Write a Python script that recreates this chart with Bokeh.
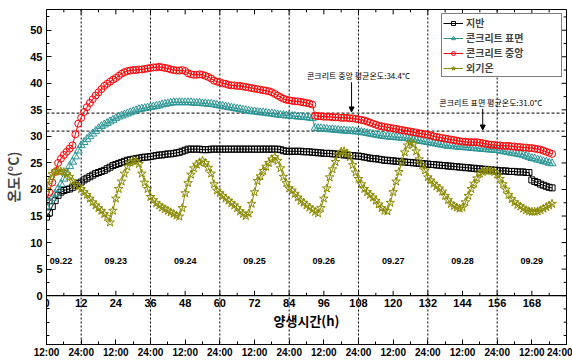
from bokeh.plotting import figure
from bokeh.models import (FixedTicker, Span, Label, Arrow, NormalHead,
                          Legend, LegendItem, Range1d)
from bokeh.core.properties import value
from bokeh.embed import file_html
from bokeh.resources import INLINE

# ---------------- data ----------------
hours = list(range(176))

ground = [14.8, 15.6, 16.8, 17.9, 18.9, 19.5, 19.8, 20.0, 20.1, 20.4,
          20.8, 21.1, 21.4, 21.8, 22.1, 22.4, 22.7, 23.0, 23.2, 23.4,
          23.6, 23.9, 24.2, 24.5, 24.7, 24.9, 25.1, 25.3, 25.5, 25.6,
          25.7, 25.8, 25.9, 26.0, 26.1, 26.1, 26.2, 26.3, 26.4, 26.5,
          26.5, 26.6, 26.7, 26.7, 26.8, 26.9, 27.0, 27.2, 27.4, 27.6,
          27.6, 27.6, 27.6, 27.6, 27.5, 27.5, 27.5, 27.6, 27.6, 27.6,
          27.6, 27.6, 27.6, 27.6, 27.6, 27.6, 27.6, 27.6, 27.6, 27.6,
          27.6, 27.6, 27.6, 27.6, 27.6, 27.6, 27.6, 27.6, 27.6, 27.6,
          27.6, 27.5, 27.3, 27.2, 27.2, 27.2, 27.2, 27.2, 27.2, 27.1,
          27.1, 27.1, 27.0, 27.0, 26.9, 26.9, 26.8, 26.8, 26.8, 26.7,
          26.7, 26.6, 26.6, 26.5, 26.5, 26.4, 26.4, 26.3, 26.3, 26.2,
          26.1, 26.0, 25.9, 25.8, 25.8, 25.7, 25.6, 25.5, 25.5, 25.4,
          25.4, 25.3, 25.3, 25.2, 25.2, 25.1, 25.1, 25.0, 25.0, 24.9,
          24.9, 24.8, 24.8, 24.7, 24.7, 24.6, 24.6, 24.5, 24.5, 24.4,
          24.4, 24.3, 24.3, 24.2, 24.2, 24.1, 24.1, 24.0, 24.0, 23.9,
          23.9, 23.8, 23.8, 23.7, 23.7, 23.6, 23.6, 23.5, 23.5, 23.5,
          23.4, 23.4, 23.4, 23.3, 23.3, 23.3, 23.2, 23.2, 21.8, 21.5,
          21.3, 21.0, 20.8, 20.6, 20.4, 20.3]

surface = [16.8, 17.7, 18.4, 19.2, 20.1, 21.0, 22.0, 23.2, 24.4, 25.2,
           26.2, 27.3, 28.3, 28.9, 29.5, 30.0, 30.5, 31.0, 31.5, 31.9,
           32.2, 32.5, 32.8, 33.1, 33.4, 33.7, 33.9, 34.1, 34.3, 34.5,
           34.7, 34.9, 35.1, 35.2, 35.3, 35.4, 35.5, 35.6, 35.7, 35.8,
           36.0, 36.1, 36.2, 36.3, 36.4, 36.4, 36.4, 36.4, 36.4, 36.4,
           36.4, 36.3, 36.3, 36.3, 36.2, 36.2, 36.1, 36.1, 36.0, 35.9,
           35.8, 35.7, 35.6, 35.5, 35.4, 35.3, 35.2, 35.1, 35.0, 34.9,
           34.8, 34.7, 34.7, 34.6, 34.5, 34.5, 34.4, 34.3, 34.3, 34.2,
           34.1, 34.0, 34.0, 33.9, 33.9, 33.8, 33.8, 33.7, 33.7, 33.6,
           33.6, 33.5, 33.4, 31.6, 31.5, 31.5, 31.4, 31.4, 31.3, 31.3,
           31.2, 31.2, 31.1, 31.1, 31.0, 31.0, 31.0, 30.9, 30.9, 30.8,
           30.7, 30.6, 30.5, 30.4, 30.3, 30.2, 30.1, 30.0, 30.0, 29.9,
           29.9, 29.8, 29.8, 29.7, 29.7, 29.6, 29.5, 29.4, 29.3, 29.2,
           29.1, 29.0, 28.9, 28.8, 28.7, 28.6, 28.5, 28.4, 28.3, 28.2,
           28.2, 28.1, 28.1, 28.0, 28.0, 27.9, 27.9, 27.8, 27.8, 27.7,
           27.7, 27.6, 27.6, 27.5, 27.5, 27.4, 27.4, 27.3, 27.2, 27.1,
           27.0, 26.9, 26.8, 26.7, 26.6, 26.5, 26.3, 26.1, 25.9, 25.8,
           25.6, 25.5, 25.3, 25.2, 25.0, 24.9]

center = [18.0, 19.5, 21.3, 23.3, 25.0, 25.8, 26.5, 27.1, 27.7, 28.3,
          30.4, 32.4, 33.5, 34.6, 35.5, 36.3, 37.0, 37.7, 38.3, 38.9,
          39.5, 39.9, 40.3, 40.7, 41.0, 41.4, 41.8, 42.1, 42.3, 42.4,
          42.5, 42.5, 42.6, 42.6, 42.7, 42.8, 42.9, 43.0, 43.0, 43.1,
          43.0, 42.9, 42.8, 42.6, 42.5, 42.4, 42.4, 42.5, 42.3, 41.9,
          41.7, 41.6, 41.6, 41.7, 41.6, 41.4, 41.2, 40.9, 40.5, 40.3,
          40.2, 40.0, 39.9, 39.7, 39.6, 39.6, 39.5, 39.5, 39.4, 39.3,
          39.2, 39.1, 39.0, 38.9, 38.8, 38.7, 38.6, 38.5, 38.3, 38.0,
          37.7, 37.4, 37.1, 36.9, 36.8, 36.7, 36.6, 36.6, 36.5, 36.4,
          36.3, 36.2, 36.0, 33.9, 33.8, 33.8, 33.7, 33.7, 33.7, 33.6,
          33.6, 33.6, 33.5, 33.5, 33.5, 33.4, 33.4, 33.3, 33.2, 33.1,
          33.0, 32.8, 32.6, 32.4, 32.2, 32.0, 31.9, 31.8, 31.7, 31.6,
          31.5, 31.4, 31.3, 31.2, 31.1, 31.0, 30.9, 30.8, 30.7, 30.6,
          30.5, 30.4, 30.3, 30.2, 30.0, 29.9, 29.8, 29.7, 29.6, 29.5,
          29.4, 29.3, 29.2, 29.1, 29.0, 29.0, 28.9, 28.9, 28.9, 28.9,
          28.8, 28.7, 28.6, 28.5, 28.4, 28.4, 28.3, 28.3, 28.2, 28.2,
          28.2, 28.1, 28.1, 28.0, 28.0, 27.9, 27.9, 27.8, 27.8, 27.7,
          27.6, 27.5, 27.3, 27.1, 26.9, 26.7]

air = [20.1, 21.6, 22.9, 23.4, 23.5, 23.4, 23.3, 22.9, 22.4, 21.6,
       20.9, 20.5, 20.1, 19.5, 19.0, 18.3, 17.6, 17.0, 16.5, 16.0,
       15.4, 14.8, 13.8, 16.0, 18.3, 20.1, 21.5, 23.0, 24.3, 25.1,
       25.4, 25.3, 24.8, 23.0, 21.3, 20.1, 18.6, 18.0, 17.4, 17.0,
       16.6, 16.3, 16.0, 15.7, 15.4, 15.1, 14.9, 16.5, 19.3, 21.2,
       22.8, 24.0, 24.7, 25.1, 25.4, 25.0, 24.1, 23.0, 21.0, 19.8,
       19.3, 18.8, 18.3, 17.9, 17.4, 17.0, 16.5, 15.9, 15.4, 15.0,
       15.5, 17.3, 19.5, 21.6, 22.5, 23.5, 24.3, 25.0, 25.7, 26.1,
       25.4, 24.0, 22.4, 21.2, 20.2, 19.8, 19.2, 18.5, 17.9, 17.5,
       17.0, 16.6, 16.2, 15.8, 15.5, 16.5, 18.3, 20.2, 22.3, 23.8,
       25.2, 26.6, 27.1, 27.2, 26.8, 26.1, 24.6, 23.2, 22.0, 21.0,
       20.1, 19.5, 19.0, 18.5, 17.9, 17.2, 16.5, 16.0, 15.9, 17.5,
       19.5, 21.5, 23.3, 25.2, 27.0, 28.3, 28.9, 28.5, 27.2, 25.7,
       24.6, 23.6, 22.3, 21.7, 21.1, 20.6, 20.2, 19.6, 18.8, 18.0,
       17.3, 16.9, 16.6, 16.4, 16.6, 17.6, 18.8, 20.1, 21.1, 22.1,
       23.0, 23.3, 23.5, 23.5, 23.5, 23.3, 22.8, 22.0, 21.0, 20.0,
       19.0, 18.2, 17.6, 17.1, 16.8, 16.4, 16.1, 15.9, 15.8, 15.8,
       15.9, 16.1, 16.4, 16.7, 17.0, 17.3]

series_names = ["지반", "콘크리트 표면", "콘크리트 중앙", "외기온"]

x_ticks = list(range(0, 169, 12))          # 0 .. 168 on the y=0 axis
x_minor = list(range(6, 175, 12))
time_ticks = list(range(0, 181, 12))       # bottom clock axis
time_minor = list(range(6, 180, 12))
time_labels = ["12:00", "24:00"]
y_ticks = list(range(0, 51, 5))
y_minor = [-7.5, -5, -2.5] + [2.5 + 5 * k for k in range(11)]

dates = ["09.22", "09.23", "09.24", "09.25", "09.26", "09.27", "09.28", "09.29"]
date_hours = [5, 24, 48, 72, 96, 120, 144, 168]
midnights = [12, 36, 60, 84, 108, 132, 156]

avg_center = 34.4
avg_surface = 31.0
avg_center_text = "콘크리트 중앙 평균온도:34.4°C"
avg_surface_text = "콘크리트 표면 평균온도:31.0°C"
note_text = "버블시트 미적용 평균"

# ---------------- figure ----------------
LAT = "Liberation Sans"
KR = "Noto Sans CJK KR"
X_MIN, X_MAX = 0, 180
Y_MIN, Y_MAX = -9.2, 53.9

p = figure(width=572, height=360, x_range=Range1d(X_MIN, X_MAX), y_range=Range1d(Y_MIN, Y_MAX),
           output_backend="svg", toolbar_location=None,
           min_border_left=43, min_border_right=6, min_border_top=9, min_border_bottom=13)
p.xgrid.visible = False
p.ygrid.visible = False
p.outline_line_color = "black"
p.outline_line_width = 1
p.background_fill_color = "white"
p.border_fill_color = "white"


def style_axis(ax):
    ax.axis_line_color = "black"
    ax.axis_line_width = 1
    ax.major_tick_in = 5
    ax.major_tick_out = 0
    ax.minor_tick_in = 3
    ax.minor_tick_out = 0
    ax.major_tick_line_color = "black"
    ax.minor_tick_line_color = "black"
    ax.major_label_text_font = LAT
    ax.major_label_text_font_style = "bold"
    ax.major_label_text_font_size = "10px"
    ax.major_label_text_color = "black"


# bottom clock axis
bx = p.xaxis[0]
bx.ticker = FixedTicker(ticks=time_ticks, minor_ticks=time_minor)
bx.major_label_overrides = {t: time_labels[(t // 12) % 2] for t in time_ticks}
style_axis(bx)
bx.major_label_standoff = 2

# left axis
ly = p.yaxis[0]
ly.ticker = FixedTicker(ticks=y_ticks, minor_ticks=y_minor)
style_axis(ly)
ly.major_label_text_font_size = "11px"
ly.major_label_standoff = 4
ly.axis_label = "온도(°C)"
ly.axis_label_text_font = KR
ly.axis_label_text_font_style = "bold"
ly.axis_label_text_font_size = "14px"
ly.axis_label_standoff = 4

# inward ticks on the top and right frame edges
tick_len_y = 0.93     # ~5 px in data units (vertical)
tick_len_x = 1.7      # ~5 px in data units (horizontal)
p.segment(x0=time_ticks, y0=[Y_MAX] * len(time_ticks), x1=time_ticks,
          y1=[Y_MAX - tick_len_y] * len(time_ticks), line_color="black", line_width=1)
p.segment(x0=time_minor, y0=[Y_MAX] * len(time_minor), x1=time_minor,
          y1=[Y_MAX - 0.55] * len(time_minor), line_color="black", line_width=1)
p.segment(x0=[X_MAX] * len(y_ticks), y0=y_ticks, x1=[X_MAX - tick_len_x] * len(y_ticks),
          y1=y_ticks, line_color="black", line_width=1)
p.segment(x0=[X_MAX] * len(y_minor), y0=y_minor, x1=[X_MAX - 1.0] * len(y_minor),
          y1=y_minor, line_color="black", line_width=1)

# reference lines
for h in midnights:
    p.add_layout(Span(location=h, dimension="height", line_color="black",
                      line_dash="2 2", line_width=1, level="underlay"))
for v in (avg_center, avg_surface):
    p.add_layout(Span(location=v, dimension="width", line_color="#333333",
                      line_dash="3 2", line_width=1.2, level="underlay"))

# axis along y = 0
p.add_layout(Span(location=0, dimension="width", line_color="black", line_width=1.3))
p.segment(x0=x_ticks, y0=[0] * len(x_ticks), x1=x_ticks, y1=[tick_len_y] * len(x_ticks),
          line_color="black", line_width=1)
p.segment(x0=x_minor, y0=[0] * len(x_minor), x1=x_minor, y1=[0.55] * len(x_minor),
          line_color="black", line_width=1)
p.text(x=x_ticks, y=[0] * len(x_ticks), text=[str(t) for t in x_ticks],
       text_align="center", text_baseline="top", y_offset=3,
       text_font=value(LAT), text_font_style="bold", text_font_size="11px", text_color="black")

# date labels
p.text(x=date_hours, y=[6.6] * len(dates), text=dates, text_align="center",
       text_baseline="middle", text_font=value(LAT), text_font_style="bold",
       text_font_size="9px", text_color="black")

# x-axis title
p.add_layout(Label(x=90, y=-4.6, text="양생시간(h)", text_align="center", text_baseline="middle",
                   text_font=KR, text_font_style="bold", text_font_size="13px", text_color="black"))

# series
colors = ["black", "#2a9595", "#ff0000", "#8a8a00"]
markers = ["square", "triangle", "circle", "star"]
sizes = [6, 8, 7, 9]
items = []
for name, ys, c, m, s in zip(series_names, [ground, surface, center, air], colors, markers, sizes):
    lr = p.line(hours, ys, line_color=c, line_width=1)
    sr = p.scatter(hours, ys, marker=m, size=s, line_color=c, fill_color=None, line_width=1)
    items.append(LegendItem(label=name, renderers=[lr, sr]))

# annotations
p.add_layout(Label(x=108, y=41.4, text=avg_center_text, text_align="center", text_baseline="middle",
                   text_font=KR, text_font_size="8px", text_color="black"))
p.add_layout(Label(x=153.8, y=36.4, text=avg_surface_text, text_align="center", text_baseline="middle",
                   text_font=KR, text_font_size="8px", text_color="black"))
p.add_layout(Arrow(end=NormalHead(size=5, fill_color="black", line_color="black"),
                   x_start=105.6, y_start=40.2, x_end=105.6, y_end=avg_center + 0.2,
                   line_color="black", line_width=1))
p.add_layout(Arrow(end=NormalHead(size=5, fill_color="black", line_color="black"),
                   x_start=151, y_start=35.2, x_end=151, y_end=avg_surface + 0.2,
                   line_color="black", line_width=1))
p.add_layout(Label(x=156.6, y=42.9, text=note_text, text_align="center", text_baseline="middle",
                   text_font=KR, text_font_style="bold", text_font_size="10px", text_color="#1a1aaa"))

legend = Legend(items=items, location="top_right", margin=4, padding=1, spacing=0,
                glyph_width=20, glyph_height=10, label_height=10, label_standoff=3,
                label_width=94, border_line_color="black", border_line_width=1,
                background_fill_color="white", background_fill_alpha=1,
                label_text_font=KR, label_text_font_style="bold", label_text_font_size="10px")
p.add_layout(legend)

open("out.html", "w").write(file_html(p, INLINE))
